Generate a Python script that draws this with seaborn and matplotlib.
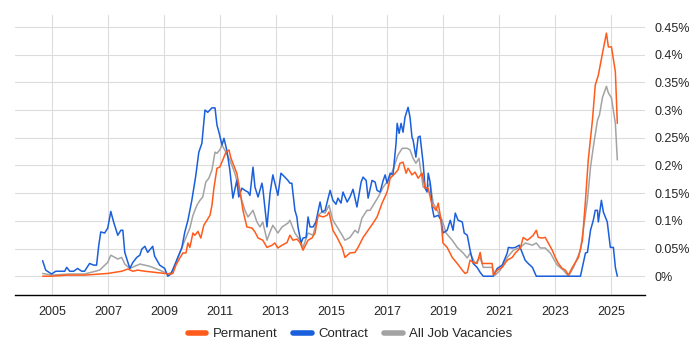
import numpy as np
import pandas as pd
import matplotlib
matplotlib.use("Agg")
import matplotlib.pyplot as plt
from matplotlib.ticker import FuncFormatter
import seaborn as sns

sns.set_style("white")
plt.rcParams['font.family'] = ['Liberation Sans', 'DejaVu Sans']

# share of job vacancies (%)
perm_year = [2004.66, 2004.98, 2005.52, 2006.16, 2006.70, 2006.99, 2007.24, 2007.49, 2007.71, 2007.89,
             2008.06, 2008.32, 2008.67, 2009.03, 2009.21, 2009.32, 2009.43, 2009.57, 2009.68, 2009.79,
             2009.86, 2009.93, 2010.04, 2010.11, 2010.22, 2010.32, 2010.43, 2010.54, 2010.65, 2010.72,
             2010.79, 2010.90, 2011.00, 2011.11, 2011.22, 2011.33, 2011.40, 2011.47, 2011.61, 2011.72,
             2011.83, 2011.97, 2012.15, 2012.26, 2012.37, 2012.54, 2012.69, 2012.87, 2012.97, 2013.08,
             2013.23, 2013.41, 2013.51, 2013.62, 2013.76, 2013.87, 2013.98, 2014.16, 2014.30, 2014.41,
             2014.52, 2014.70, 2014.84, 2014.91, 2015.05, 2015.20, 2015.38, 2015.48, 2015.66, 2015.84,
             2015.95, 2016.13, 2016.31, 2016.49, 2016.63, 2016.81, 2016.99, 2017.10, 2017.28, 2017.38,
             2017.45, 2017.56, 2017.67, 2017.74, 2017.88, 2017.99, 2018.10, 2018.24, 2018.35, 2018.46,
             2018.60, 2018.74, 2018.82, 2018.92, 2018.99, 2019.14, 2019.32, 2019.50, 2019.68, 2019.78,
             2019.86, 2019.96, 2020.07, 2020.21, 2020.32, 2020.39, 2020.75, 2020.79, 2020.93, 2021.11,
             2021.29, 2021.47, 2021.58, 2021.76, 2021.86, 2022.01, 2022.11, 2022.22, 2022.33, 2022.40,
             2022.54, 2022.65, 2022.76, 2022.90, 2023.01, 2023.12, 2023.26, 2023.37, 2023.48, 2023.62,
             2023.73, 2023.84, 2023.98, 2024.09, 2024.19, 2024.34, 2024.44, 2024.55, 2024.70, 2024.84,
             2024.91, 2025.02, 2025.16, 2025.23]
perm_share = [0.000, 0.000, 0.002, 0.002, 0.004, 0.005, 0.007, 0.009, 0.013, 0.009,
              0.011, 0.009, 0.007, 0.005, 0.004, 0.005, 0.020, 0.033, 0.042, 0.042,
              0.060, 0.052, 0.078, 0.074, 0.081, 0.069, 0.092, 0.101, 0.110, 0.128,
              0.159, 0.195, 0.197, 0.210, 0.224, 0.228, 0.213, 0.204, 0.186, 0.155,
              0.119, 0.089, 0.087, 0.080, 0.069, 0.065, 0.052, 0.056, 0.060, 0.051,
              0.056, 0.061, 0.074, 0.065, 0.067, 0.061, 0.047, 0.065, 0.069, 0.078,
              0.110, 0.107, 0.110, 0.116, 0.083, 0.070, 0.052, 0.034, 0.042, 0.043,
              0.052, 0.070, 0.083, 0.096, 0.107, 0.132, 0.152, 0.177, 0.186, 0.192,
              0.204, 0.206, 0.186, 0.195, 0.183, 0.188, 0.177, 0.186, 0.159, 0.159,
              0.128, 0.119, 0.132, 0.101, 0.060, 0.052, 0.034, 0.023, 0.011, 0.005,
              0.007, 0.029, 0.025, 0.023, 0.043, 0.023, 0.023, 0.002, 0.011, 0.016,
              0.029, 0.034, 0.042, 0.051, 0.070, 0.065, 0.069, 0.074, 0.083, 0.070,
              0.069, 0.070, 0.060, 0.047, 0.034, 0.023, 0.014, 0.011, 0.002, 0.016,
              0.025, 0.034, 0.065, 0.137, 0.210, 0.282, 0.345, 0.363, 0.403, 0.439,
              0.414, 0.414, 0.369, 0.276]

contract_year = [2004.66, 2004.77, 2004.98, 2005.13, 2005.34, 2005.45, 2005.52, 2005.63, 2005.77, 2005.91,
                 2006.06, 2006.16, 2006.34, 2006.49, 2006.59, 2006.67, 2006.74, 2006.88, 2006.99, 2007.10,
                 2007.20, 2007.35, 2007.46, 2007.53, 2007.60, 2007.78, 2007.89, 2008.03, 2008.14, 2008.21,
                 2008.32, 2008.42, 2008.60, 2008.67, 2008.85, 2009.03, 2009.14, 2009.25, 2009.39, 2009.53,
                 2009.64, 2009.75, 2009.86, 2010.00, 2010.14, 2010.25, 2010.36, 2010.47, 2010.57, 2010.72,
                 2010.83, 2010.90, 2010.97, 2011.08, 2011.15, 2011.25, 2011.36, 2011.47, 2011.61, 2011.68,
                 2011.79, 2011.90, 2012.01, 2012.08, 2012.19, 2012.26, 2012.37, 2012.51, 2012.54, 2012.69,
                 2012.80, 2012.90, 2013.08, 2013.19, 2013.33, 2013.44, 2013.51, 2013.58, 2013.69, 2013.76,
                 2013.80, 2013.91, 2013.98, 2014.09, 2014.16, 2014.23, 2014.34, 2014.44, 2014.59, 2014.66,
                 2014.77, 2014.95, 2015.05, 2015.16, 2015.23, 2015.34, 2015.41, 2015.56, 2015.66, 2015.77,
                 2015.91, 2016.06, 2016.13, 2016.24, 2016.31, 2016.45, 2016.56, 2016.63, 2016.74, 2016.85,
                 2016.92, 2016.99, 2017.10, 2017.20, 2017.31, 2017.35, 2017.42, 2017.49, 2017.56, 2017.63,
                 2017.74, 2017.81, 2017.88, 2017.92, 2018.02, 2018.10, 2018.17, 2018.28, 2018.35, 2018.42,
                 2018.46, 2018.53, 2018.60, 2018.67, 2018.82, 2018.92, 2018.99, 2019.14, 2019.25, 2019.35,
                 2019.43, 2019.53, 2019.68, 2019.75, 2019.86, 2019.96, 2020.07, 2020.21, 2020.32, 2020.43,
                 2020.79, 2020.93, 2021.11, 2021.29, 2021.33, 2021.47, 2021.58, 2021.72, 2021.83, 2021.93,
                 2022.04, 2022.19, 2022.33, 2023.91, 2024.09, 2024.16, 2024.27, 2024.37, 2024.44, 2024.52,
                 2024.55, 2024.66, 2024.73, 2024.87, 2024.98, 2025.09, 2025.16, 2025.23]
contract_share = [0.028, 0.011, 0.004, 0.009, 0.009, 0.009, 0.016, 0.009, 0.009, 0.014,
                  0.009, 0.009, 0.023, 0.020, 0.020, 0.056, 0.080, 0.078, 0.087, 0.117,
                  0.098, 0.074, 0.083, 0.083, 0.043, 0.014, 0.025, 0.034, 0.038, 0.049,
                  0.054, 0.043, 0.054, 0.036, 0.020, 0.014, 0.000, 0.004, 0.020, 0.038,
                  0.051, 0.080, 0.101, 0.137, 0.181, 0.224, 0.240, 0.300, 0.296, 0.304,
                  0.304, 0.273, 0.260, 0.237, 0.249, 0.228, 0.192, 0.141, 0.173, 0.143,
                  0.159, 0.155, 0.152, 0.146, 0.197, 0.161, 0.143, 0.168, 0.159, 0.089,
                  0.150, 0.183, 0.146, 0.186, 0.179, 0.173, 0.168, 0.168, 0.119, 0.107,
                  0.089, 0.060, 0.069, 0.070, 0.107, 0.089, 0.089, 0.098, 0.134, 0.116,
                  0.119, 0.155, 0.137, 0.130, 0.141, 0.132, 0.152, 0.134, 0.143, 0.157,
                  0.125, 0.170, 0.179, 0.173, 0.141, 0.173, 0.170, 0.155, 0.152, 0.173,
                  0.183, 0.168, 0.186, 0.183, 0.240, 0.276, 0.258, 0.276, 0.260, 0.287,
                  0.305, 0.287, 0.251, 0.246, 0.215, 0.251, 0.253, 0.204, 0.159, 0.152,
                  0.186, 0.170, 0.125, 0.107, 0.110, 0.101, 0.078, 0.083, 0.101, 0.083,
                  0.114, 0.101, 0.098, 0.078, 0.074, 0.047, 0.023, 0.016, 0.007, 0.000,
                  0.000, 0.014, 0.020, 0.042, 0.052, 0.051, 0.052, 0.056, 0.042, 0.029,
                  0.023, 0.016, 0.000, 0.000, 0.042, 0.043, 0.083, 0.101, 0.119, 0.119,
                  0.098, 0.137, 0.116, 0.098, 0.052, 0.052, 0.016, 0.000]

all_year = [2004.66, 2004.98, 2005.63, 2006.16, 2006.70, 2006.99, 2007.10, 2007.35, 2007.49, 2007.60,
            2007.78, 2008.14, 2008.49, 2008.85, 2009.14, 2009.28, 2009.43, 2009.57, 2009.75, 2009.93,
            2010.04, 2010.18, 2010.29, 2010.39, 2010.50, 2010.61, 2010.72, 2010.83, 2010.90, 2011.00,
            2011.08, 2011.22, 2011.36, 2011.54, 2011.65, 2011.79, 2011.90, 2012.01, 2012.19, 2012.33,
            2012.44, 2012.54, 2012.69, 2012.80, 2012.90, 2013.08, 2013.23, 2013.44, 2013.51, 2013.69,
            2013.87, 2013.98, 2014.16, 2014.34, 2014.52, 2014.66, 2014.77, 2014.91, 2015.05, 2015.20,
            2015.38, 2015.48, 2015.66, 2015.84, 2015.95, 2016.09, 2016.27, 2016.38, 2016.49, 2016.67,
            2016.85, 2017.03, 2017.20, 2017.38, 2017.53, 2017.71, 2017.81, 2017.92, 2018.02, 2018.13,
            2018.28, 2018.42, 2018.53, 2018.64, 2018.78, 2018.96, 2019.10, 2019.32, 2019.50, 2019.71,
            2019.86, 2019.96, 2020.14, 2020.32, 2020.43, 2020.75, 2020.86, 2021.04, 2021.29, 2021.51,
            2021.76, 2021.94, 2022.19, 2022.33, 2022.47, 2022.65, 2022.83, 2023.08, 2023.30, 2023.48,
            2023.66, 2023.91, 2024.01, 2024.16, 2024.27, 2024.37, 2024.52, 2024.59, 2024.70, 2024.84,
            2024.91, 2025.02, 2025.16, 2025.23]
all_share = [0.005, 0.002, 0.004, 0.004, 0.011, 0.025, 0.038, 0.031, 0.034, 0.022,
             0.014, 0.022, 0.018, 0.011, 0.004, 0.007, 0.025, 0.042, 0.065, 0.087,
             0.110, 0.128, 0.137, 0.143, 0.170, 0.177, 0.192, 0.224, 0.222, 0.228,
             0.237, 0.224, 0.210, 0.186, 0.164, 0.137, 0.119, 0.107, 0.119, 0.098,
             0.089, 0.098, 0.065, 0.080, 0.092, 0.078, 0.089, 0.096, 0.101, 0.078,
             0.065, 0.052, 0.078, 0.074, 0.110, 0.116, 0.114, 0.128, 0.101, 0.089,
             0.074, 0.065, 0.070, 0.083, 0.078, 0.105, 0.119, 0.119, 0.128, 0.143,
             0.161, 0.173, 0.192, 0.219, 0.231, 0.231, 0.228, 0.213, 0.204, 0.213,
             0.161, 0.159, 0.168, 0.132, 0.119, 0.101, 0.078, 0.065, 0.052, 0.042,
             0.033, 0.042, 0.023, 0.034, 0.016, 0.016, 0.002, 0.011, 0.034, 0.047,
             0.052, 0.060, 0.056, 0.060, 0.051, 0.051, 0.042, 0.020, 0.011, 0.000,
             0.016, 0.047, 0.083, 0.137, 0.197, 0.233, 0.282, 0.291, 0.323, 0.343,
             0.331, 0.322, 0.276, 0.210]

series_names = ["Permanent", "Contract", "All Job Vacancies"]
series_colors = ["#ff5b1a", "#1a5fdc", "#a3a3a3"]
year_ticks = list(range(2005, 2026, 2))
pct_ticks = [0, 0.05, 0.1, 0.15, 0.2, 0.25, 0.3, 0.35, 0.4, 0.45]

df = pd.concat([
    pd.DataFrame({"year": perm_year, "share": perm_share, "series": series_names[0]}),
    pd.DataFrame({"year": contract_year, "share": contract_share, "series": series_names[1]}),
    pd.DataFrame({"year": all_year, "share": all_share, "series": series_names[2]}),
])

fig = plt.figure(figsize=(7, 3.5), dpi=100)
ax = fig.add_axes([0.0214, 0.157, 0.9, 0.8])

sns.lineplot(data=df, x="year", y="share", hue="series", hue_order=series_names,
             palette=series_colors, estimator=None, linewidth=1.1, ax=ax, legend=False)

# grey under blue under orange
for line, z in zip(ax.lines, [4, 3, 2]):
    line.set_zorder(z)

ax.set_xlim(2003.67, 2026.22)
ax.set_ylim(-0.034, 0.4716)
ax.set_xticks(year_ticks)
ax.set_yticks(pct_ticks)
ax.yaxis.set_major_formatter(FuncFormatter(lambda v, p: "0%" if v == 0 else ("%g%%" % round(v, 2))))
ax.yaxis.tick_right()
ax.set_xlabel("")
ax.set_ylabel("")
ax.grid(True, color="#dcdcdc", linewidth=0.8)
ax.set_axisbelow(True)
for s in ["top", "right", "left"]:
    ax.spines[s].set_visible(False)
ax.spines["bottom"].set_color("black")
ax.spines["bottom"].set_linewidth(1.0)
ax.tick_params(axis="x", length=5, width=0.8, color="black", labelsize=9, pad=3)
ax.tick_params(axis="y", length=0, labelsize=9, pad=7)

handles = [plt.Line2D([], [], color=c, linewidth=4) for c in series_colors]
fig.legend(handles, series_names, loc="center", bbox_to_anchor=(0.5, 0.045), ncol=3,
           frameon=False, fontsize=9.5, handlelength=1.4, columnspacing=1.2, handletextpad=0.5)

fig.savefig("out.png", dpi=100)
